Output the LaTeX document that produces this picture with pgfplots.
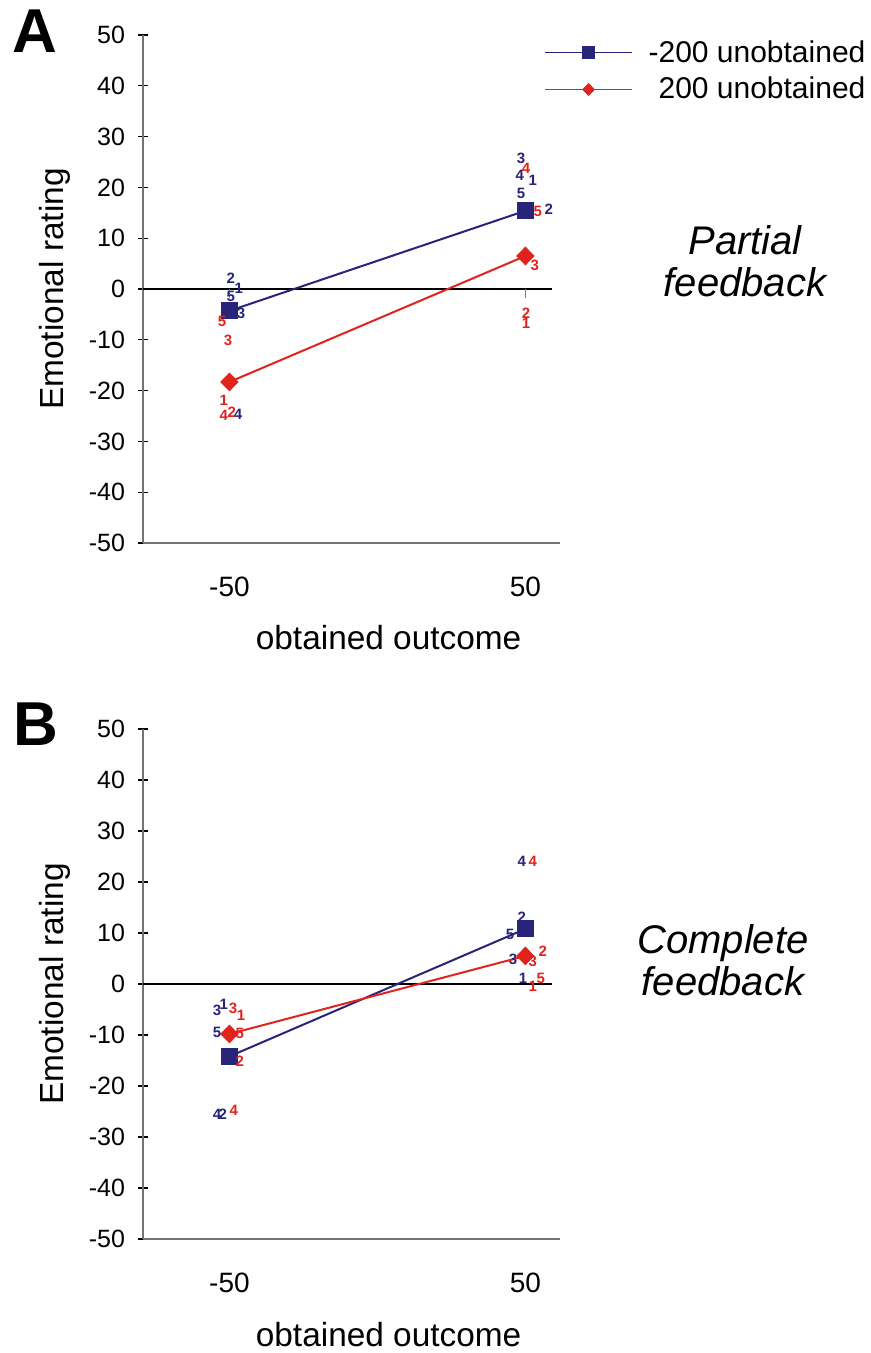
\documentclass[border=0pt]{standalone}
\usepackage{pgfplots}
\pgfplotsset{compat=1.18}
\usepackage{fontspec}
\setmainfont{Liberation Sans}
\definecolor{navyC}{RGB}{40,36,122}
\definecolor{redC}{RGB}{225,35,30}

\pgfplotsset{
 panel/.style={
  scale only axis, width=208.5pt, height=254pt,
  xmin=-79.2, xmax=61.7, ymin=-50, ymax=50,
  axis x line=bottom, axis y line=left,
  axis line style={-, black!55, line width=0.8pt},
  xtick={-50,50}, ytick={-50,-40,...,50},
  xtick style={draw=none},
  ytick style={black, line width=0.6pt},
  major tick length=5pt, tick align=center,
  /pgf/number format/assume math mode=true,
  yticklabel style={font=\fontsize{12.5}{14}\selectfont, xshift=-3pt},
  xticklabel style={font=\fontsize{14}{16}\selectfont, anchor=base, yshift=-24pt},
  clip=false,
  label style={font=\fontsize{16.7}{19}\selectfont},
  xlabel={obtained outcome},
  ylabel={Emotional rating},
  xlabel style={at={(axis description cs:0.589,-0.21)}, anchor=base},
  ylabel style={at={(axis description cs:-0.212,0.5)}, anchor=center},
 },
 bluel/.style={navyC, line width=1pt, mark=square*, mark size=3.75pt},
 redl/.style={redC, line width=1pt, mark=diamond*, mark size=4pt, mark options={xscale=1.3}},
 lab/.style={draw=none, mark=none, nodes near coords, point meta=explicit symbolic,
   nodes near coords style={anchor=center, inner sep=0pt, text=#1,
   font=\fontsize{7.5}{8}\selectfont\bfseries}},
}

\begin{document}
\begin{tikzpicture}
\useasboundingbox (0,0) rectangle (435.5pt,-676.5pt);

% Panel A
\begin{axis}[panel, at={(71.5pt,-271.5pt)}, anchor=south west,
  legend style={draw=none, fill=none, at={(rel axis cs:1.743,0.998)}, anchor=north east,
    inner sep=0pt, font=\fontsize{15}{17}\selectfont, row sep=2pt,
    /tikz/every odd column/.append style={column sep=6pt}},
  legend cell align=right,
  legend image code/.code={
    \draw[#1, line width=0.5pt, mark=none] (0pt,0pt) -- (43.5pt,0pt);
    \draw[#1, line width=0.5pt, mark size=2.9pt] plot coordinates {(21.75pt,0pt)};
  }]
\draw[black, line width=0.6pt] (axis cs:-79.2,0) -- (axis cs:59,0);
\draw[black!50, line width=0.8pt] (axis cs:50,0) -- ([yshift=-4.5pt]axis cs:50,0);
\draw[black!50, line width=0.8pt] (axis cs:-50,0) -- ([yshift=-4.5pt]axis cs:-50,0);
\addplot[bluel] coordinates {(-50,-4.3) (50,15.4)};
\addplot[redl] coordinates {(-50,-18.3) (50,6.5)};
\legend{-200 unobtained, 200 unobtained}
\addplot[lab=navyC] table[meta=l] {
x y l
-49.5 2.2 2
-46.8 0.2 1
-49.5 -1.5 5
-46.1 -4.7 3
-47.1 -24.6 4
48.5 25.8 3
48.1 22.4 4
52.5 21.3 1
48.5 18.9 5
57.9 15.7 2
};
\addplot[lab=redC] table[meta=l] {
x y l
-52.5 -6.3 5
-50.5 -10.2 3
-51.9 -21.9 1
-51.9 -24.8 4
-49.2 -24.2 2
50.2 23.8 4
54.2 15.2 5
53.2 4.7 3
50.2 -4.7 2
50.2 -6.7 1
};
\end{axis}

% Panel B
\begin{axis}[panel, at={(71.5pt,-619.5pt)}, anchor=south west, height=255pt]
\draw[black, line width=0.6pt] (axis cs:-79.2,0) -- (axis cs:59,0);
\addplot[bluel] coordinates {(-50,-14.2) (50,10.8)};
\addplot[redl] coordinates {(-50,-9.8) (50,5.5)};
\addplot[lab=navyC] table[meta=l] {
x y l
-54.2 -5.1 3
-51.9 -3.9 1
-54.2 -9.4 5
-54.2 -25.6 4
-52.2 -25.6 2
48.8 24.0 4
48.8 13.0 2
44.8 9.8 5
45.8 4.9 3
49.2 1.2 1
};
\addplot[lab=redC] table[meta=l] {
x y l
-48.8 -4.7 3
-46.1 -6.1 1
-46.5 -9.6 5
-46.5 -15.2 2
-48.5 -24.8 4
52.5 24.0 4
55.9 6.5 2
52.5 4.5 3
52.5 -0.4 1
55.2 1.0 5
};
\end{axis}

\node[anchor=base west, inner sep=0pt, font=\fontsize{31}{31}\selectfont\bfseries] at (6pt,-26.5pt) {A};
\node[anchor=base west, inner sep=0pt, font=\fontsize{31}{31}\selectfont\bfseries] at (6.5pt,-372.5pt) {B};
\node[align=center, font=\fontsize{20}{21}\selectfont\itshape] at (372.5pt,-130.5pt) {Partial\\feedback};
\node[align=center, font=\fontsize{20}{21}\selectfont\itshape] at (361.5pt,-480pt) {Complete\\feedback};
\end{tikzpicture}
\end{document}
